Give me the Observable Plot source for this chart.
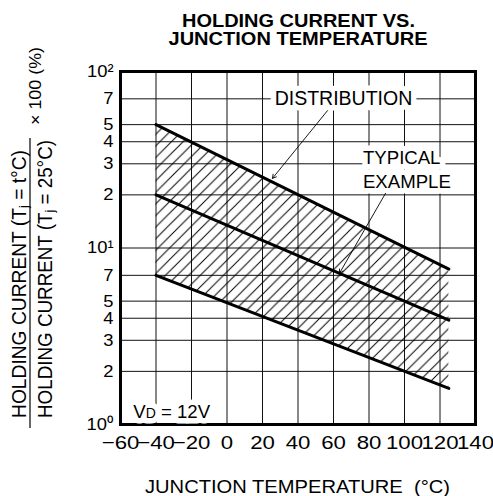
<!DOCTYPE html>
<html><head><meta charset="utf-8">
<script src="https://cdn.jsdelivr.net/npm/d3@7"></script>
<script src="https://cdn.jsdelivr.net/npm/@observablehq/plot@0.6"></script>
<style>
body{margin:0;background:#fff;}
svg text{font-family:"Liberation Sans",Arial,Helvetica,sans-serif;}
</style>
</head><body><div id="chart"></div>
<script>
// ---- data ----
const tempTicks = [-60,-40,-20,0,20,40,60,80,100,120,140];
const gridTemps = [-40,-20,0,20,40,60,80,100,120];
const ratioTicks = [1,2,3,4,5,7,10,20,30,40,50,70,100];
const ratioTickLabels = ["10⁰","2","3","4","5","7","10¹","2","3","4","5","7","10²"];
const gridRatios = [2,3,4,5,7,10,20,30,40,50,70];
const temps = [-40, 125];
const upperBound = [50, 7.6];
const typical = [20, 3.9];
const lowerBound = [7, 1.6];
const labelMid = [{text:"DISTRIBUTION", x:65.6, y:70}];
const labelStart = [{text:"TYPICAL\nEXAMPLE", x:76.6, y:28.3}, {text:"VD = 12V", x:-52.8, y:1.2}];
const arrows = [{x1:56.6, y1:60, x2:25.6, y2:24.8}, {x1:89.3, y1:20.4, x2:63.4, y2:7.2}];

const band = temps.map((t,i)=>({t, lo:lowerBound[i], hi:upperBound[i], typ:typical[i]}));
const haloStyle = {fill:"#fff", stroke:"#fff", strokeWidth:11, strokeLinejoin:"round"};
const inkStyle = {fill:"#000"};
const midOpts = {x:"x", y:"y", text:"text", textAnchor:"middle", fontSize:19.5};
const startOpts = {x:"x", y:"y", text:"text", textAnchor:"start", fontSize:18.6, lineHeight:1.29};

const chart = Plot.plot({
  width:493, height:496,
  marginTop:71, marginBottom:72, marginLeft:120, marginRight:18,
  style:{background:"#fff", color:"#000", overflow:"visible"},
  x:{domain:[-60,140], axis:null},
  y:{type:"log", domain:[1,100], axis:null},
  marks:[
    Plot.ruleX(gridTemps, {x:d=>d, stroke:"#111", strokeWidth:1}),
    Plot.ruleY(gridRatios, {y:d=>d, stroke:"#111", strokeWidth:1}),
    Plot.areaY(band, {x:"t", y1:"lo", y2:"hi", fill:"url(#hatch)", curve:"linear"}),
    Plot.line(band, {x:"t", y:"hi", stroke:"#000", strokeWidth:3}),
    Plot.line(band, {x:"t", y:"typ", stroke:"#000", strokeWidth:3}),
    Plot.line(band, {x:"t", y:"lo", stroke:"#000", strokeWidth:3}),
    Plot.frame({stroke:"#000", strokeWidth:3}),
    Plot.text(tempTicks, {x:d=>d, text:d=>d<0?"\u2212"+(-d):String(d), frameAnchor:"bottom", lineAnchor:"top", dy:11, fontSize:18.5, fill:"#000"}),
    Plot.text(ratioTicks, {y:d=>d, text:(d,i)=>ratioTickLabels[i], frameAnchor:"left", textAnchor:"end", dx:-7, fontSize:17, fill:"#000"}),
    Plot.text(labelMid, {...midOpts, ...haloStyle}),
    Plot.text(labelStart, {...startOpts, ...haloStyle}),
    Plot.text(labelMid, {...midOpts, ...inkStyle}),
    Plot.text(labelStart, {...startOpts, ...inkStyle}),
    Plot.arrow(arrows, {x1:"x1", y1:"y1", x2:"x2", y2:"y2", stroke:"#000", strokeWidth:0.9, headLength:7})
  ]
});
document.getElementById("chart").appendChild(chart);

const svg = d3.select(chart);
svg.insert("defs", ":first-child").html(
  '<pattern id="hatch" patternUnits="userSpaceOnUse" width="11.6" height="11.6">' +
  '<path d="M0,11.6L11.6,0M-2,2L2,-2M9.6,13.6L13.6,9.6" stroke="#000" stroke-width="1" fill="none"/></pattern>');

function fit(el, w){ el.setAttribute("textLength", w); el.setAttribute("lengthAdjust","spacingAndGlyphs"); }
function stretch(el, k){ fit(el, el.getComputedTextLength()*k); }

// widen tick labels like the reference's wide face
const box0 = chart.getBoundingClientRect();
svg.selectAll("text").each(function(){
  const r = this.getBoundingClientRect();
  const top = r.top - box0.top, right = r.right - box0.left;
  if (top > 425 && top < 460) stretch(this, 1.2);
  else if (right < 119 && right > 60) stretch(this, 1.08);
});

// subscript D in VD
svg.selectAll('text').each(function(){
  if (this.textContent === "VD = 12V") {
    const t = d3.select(this); t.text("");
    t.append("tspan").text("V");
    t.append("tspan").attr("font-size", 14).text("D");
    t.append("tspan").text(" = 12V");
  }
});

// title
const title = svg.append("g").attr("font-weight","bold").attr("font-size",17.7).attr("text-anchor","middle").attr("fill","#000");
fit(title.append("text").attr("x",298.5).attr("y",27).text("HOLDING CURRENT VS.").node(), 233);
fit(title.append("text").attr("x",298).attr("y",45).text("JUNCTION TEMPERATURE").node(), 259);

// x label
fit(svg.append("text").attr("x",297.5).attr("y",493).attr("text-anchor","middle").attr("font-size",18.6).attr("fill","#000")
  .text("JUNCTION TEMPERATURE  (°C)").node(), 305);

// y label (fraction)
const yl = svg.append("g").attr("fill","#000").attr("font-size",19.5).attr("text-anchor","start");
const num = yl.append("text").attr("text-anchor","start").attr("transform","translate(25.5,418) rotate(-90)");
num.append("tspan").text("HOLDING CURRENT (T");
num.append("tspan").attr("font-size",13).attr("dy",2).text("j");
num.append("tspan").attr("dy",-2).text(" = t°C)");
fit(num.node(), 268);
const den = yl.append("text").attr("text-anchor","start").attr("transform","translate(52,418) rotate(-90)");
den.append("tspan").text("HOLDING CURRENT (T");
den.append("tspan").attr("font-size",13).attr("dy",2).text("j");
den.append("tspan").attr("dy",-2).text(" = 25°C)");
fit(den.node(), 278);
yl.append("line").attr("x1",30).attr("x2",30).attr("y1",428).attr("y2",138).attr("stroke","#000").attr("stroke-width",1.2);
fit(yl.append("text").attr("text-anchor","start").attr("transform","translate(41,125) rotate(-90)").attr("font-size",17).text("× 100 (%)").node(), 78);
</script>
</body></html>
